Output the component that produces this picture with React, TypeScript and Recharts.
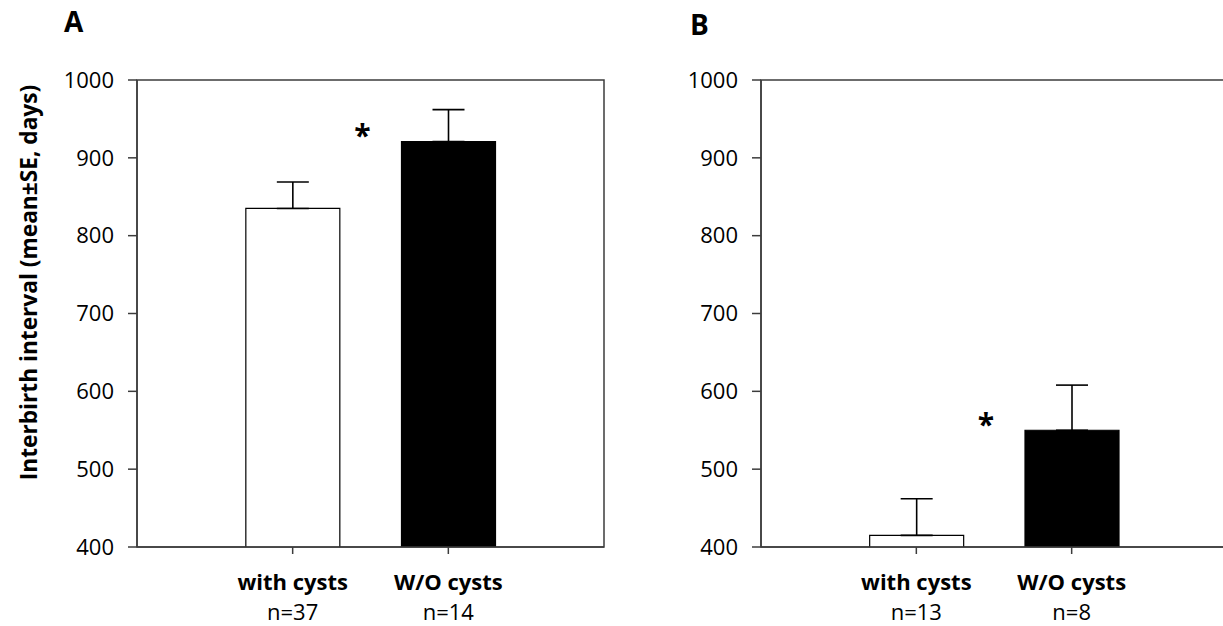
import { Bar, BarChart, Cell, ErrorBar, LabelList, ReferenceArea, XAxis, YAxis } from "recharts";

const categories = ["with cysts", "W/O cysts"];
const meansA = [835, 921];
const seA = [34, 41];
const countsA = [37, 14];
const meansB = [415, 550];
const seB = [47, 58];
const countsB = [13, 8];
const yTicks = [400, 500, 600, 700, 800, 900, 1000];
const xSlots = [1, 2];
const fills = ["#ffffff", "#000000"];
const marks = ["", "*"];

const AXIS = "#3c3c3c";
const FONT = "'Open Sans', sans-serif";

function buildRows(means: number[], se: number[], counts: number[]) {
  return categories.map((name, i) => ({
    name,
    slot: xSlots[i],
    mean: means[i],
    err: [0, se[i]],
    n: counts[i],
    mark: marks[i]
  }));
}

function CategoryTick(props: any) {
  const { x, y, payload, counts } = props;
  const i = xSlots.indexOf(payload.value);
  return (
    <g>
      <text x={x} y={y + 36} textAnchor="middle" fontSize={22} fontWeight={700} fill="#000">
        {categories[i]}
      </text>
      <text x={x} y={y + 66} textAnchor="middle" fontSize={22} fill="#000">
        n={counts[i]}
      </text>
    </g>
  );
}

function StarLabel(props: any) {
  const { x, y, value } = props;
  if (!value) return null;
  return (
    <text x={x - 39} y={y + 5} textAnchor="middle" fontSize={30} fontWeight={700} fill="#000">
      {value}
    </text>
  );
}

function YTitle(props: any) {
  const { viewBox } = props;
  const cx = viewBox.x + 28;
  const cy = viewBox.y + viewBox.height / 2 - 31;
  return (
    <text
      x={cx}
      y={cy}
      transform={`rotate(-90, ${cx}, ${cy})`}
      textAnchor="middle"
      dominantBaseline="central"
      fontSize={22.7}
      fontWeight={700}
      fill="#000"
    >
      Interbirth interval (mean±SE, days)
    </text>
  );
}

interface PanelProps {
  means: number[];
  se: number[];
  counts: number[];
  left: number;
  yWidth: number;
  rightMargin: number;
  withTitle?: boolean;
}

function Panel({ means, se, counts, left, yWidth, rightMargin, withTitle }: PanelProps) {
  const data = buildRows(means, se, counts);
  return (
    <div style={{ position: "absolute", left, top: 0 }}>
      <BarChart
        width={620}
        height={626}
        data={data}
        margin={{ top: 80, right: rightMargin, bottom: 0, left: 0 }}
      >
        <ReferenceArea y1={400} y2={1000} fill="none" fillOpacity={0} stroke={AXIS} strokeWidth={1.5} ifOverflow="visible" />
        <XAxis
          dataKey="slot"
          type="number"
          domain={[0, 3]}
          ticks={xSlots}
          height={79}
          stroke={AXIS}
          strokeWidth={1.5}
          tickSize={7}
          tickMargin={0}
          interval={0}
          tick={<CategoryTick counts={counts} />}
        />
        <YAxis
          width={yWidth}
          domain={[400, 1000]}
          ticks={yTicks}
          allowDataOverflow
          stroke={AXIS}
          strokeWidth={1.5}
          tickSize={9}
          tickMargin={14}
          tick={{ fill: "#000", fontSize: 22 }}
          label={withTitle ? <YTitle /> : undefined}
        />
        <Bar dataKey="mean" barSize={94} stroke="#000" strokeWidth={1.2} isAnimationActive={false}>
          {data.map((row, i) => (
            <Cell key={row.name} fill={fills[i]} />
          ))}
          <ErrorBar dataKey="err" direction="y" width={16} stroke="#000" strokeWidth={1.6} />
          <LabelList dataKey="mark" content={<StarLabel />} />
        </Bar>
      </BarChart>
    </div>
  );
}

export default function App() {
  return (
    <div
      style={{
        position: "fixed",
        left: 0,
        top: 0,
        width: 1223,
        height: 626,
        overflow: "hidden",
        background: "#fff",
        fontFamily: FONT
      }}
    >
      <Panel means={meansA} se={seA} counts={countsA} left={0} yWidth={137} rightMargin={16} withTitle />
      <Panel means={meansB} se={seB} counts={countsB} left={620} yWidth={141} rightMargin={13} />
      <svg width={1223} height={60} style={{ position: "absolute", left: 0, top: 0 }}>
        <text x={64} y={32} fontSize={28} fontWeight={700} fill="#000">A</text>
        <text x={690} y={35} fontSize={28} fontWeight={700} fill="#000">B</text>
      </svg>
    </div>
  );
}
